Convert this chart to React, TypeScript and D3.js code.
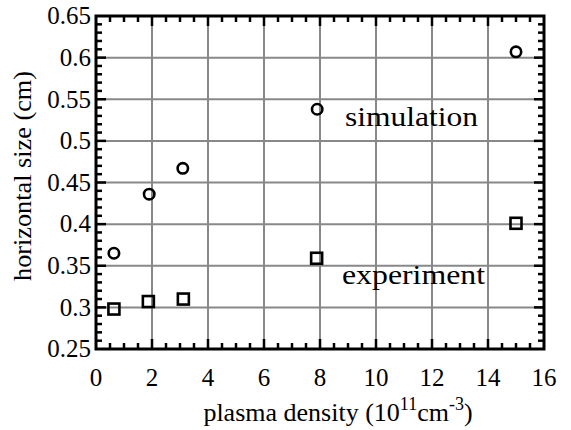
import React from 'react';
import * as d3 from 'd3';

// plasma density (10^11 cm^-3) vs horizontal size (cm)
const simDensity = [0.64, 1.9, 3.1, 7.9, 15.0];
const simSize = [0.365, 0.436, 0.467, 0.538, 0.607];
const expDensity = [0.64, 1.87, 3.12, 7.88, 15.0];
const expSize = [0.298, 0.307, 0.31, 0.359, 0.401];

const xTicks = [0, 2, 4, 6, 8, 10, 12, 14, 16];
const yTicks = [0.25, 0.3, 0.35, 0.4, 0.45, 0.5, 0.55, 0.6, 0.65];
const yTickLabels = ['0.25', '0.3', '0.35', '0.4', '0.45', '0.5', '0.55', '0.6', '0.65'];

const W = 571;
const H = 430;
const serif = { fontFamily: '"Liberation Serif"' };

const x = d3.scaleLinear().domain([0, 16]).range([96, 544]);
const y = d3.scaleLinear().domain([0.25, 0.65]).range([349, 16]);

const App = () => {
  const [x0, x1] = x.range();
  const [y0, y1] = y.range();

  const xMinor = d3.range(0, 16.001, 0.5).filter((v) => Math.abs(v % 2) > 1e-6);
  const yMinor = d3.range(25, 65.001, 1).filter((v) => v % 5 !== 0).map((v) => v / 100);
  const xt = [
    ...xTicks.slice(1, -1).map((v) => ({ v, len: 10 })),
    ...xMinor.map((v) => ({ v, len: 6 })),
  ];
  const yt = [
    ...yTicks.slice(1, -1).map((v) => ({ v, len: 10 })),
    ...yMinor.map((v) => ({ v, len: 6 })),
  ];

  return (
    <svg
      width={W}
      height={H}
      style={{ position: 'absolute', left: 0, top: 0, background: '#fff' }}
    >
      {/* grid */}
      <g stroke="#888" strokeWidth={2}>
        {xTicks.slice(1, -1).map((d) => (
          <line key={'gx' + d} x1={x(d)} x2={x(d)} y1={y0} y2={y1} />
        ))}
        {yTicks.slice(1, -1).map((d) => (
          <line key={'gy' + d} x1={x0} x2={x1} y1={y(d)} y2={y(d)} />
        ))}
      </g>

      {/* inward ticks on all sides */}
      <g stroke="#000" strokeWidth={2.5}>
        {xt.map((d, i) => (
          <g key={'xt' + i}>
            <line x1={x(d.v)} x2={x(d.v)} y1={y0} y2={y0 - d.len} />
            <line x1={x(d.v)} x2={x(d.v)} y1={y1} y2={y1 + d.len} />
          </g>
        ))}
        {yt.map((d, i) => (
          <g key={'yt' + i}>
            <line x1={x0} x2={x0 + d.len} y1={y(d.v)} y2={y(d.v)} />
            <line x1={x1} x2={x1 - d.len} y1={y(d.v)} y2={y(d.v)} />
          </g>
        ))}
      </g>

      <rect
        x={x0}
        y={y1}
        width={x1 - x0}
        height={y0 - y1}
        fill="none"
        stroke="#000"
        strokeWidth={3}
      />

      {/* tick labels */}
      {xTicks.map((d) => (
        <text key={'xl' + d} x={x(d)} y={386} style={serif} fontSize={25} textAnchor="middle">
          {d}
        </text>
      ))}
      {yTicks.map((d, i) => (
        <text
          key={'yl' + d}
          x={91}
          y={y(d)}
          dy="0.33em"
          style={serif}
          fontSize={25}
          textAnchor="end"
        >
          {yTickLabels[i]}
        </text>
      ))}

      {/* markers */}
      <g fill="none" stroke="#000" strokeWidth={2.6}>
        {simDensity.map((d, i) => (
          <circle key={'s' + i} cx={x(d)} cy={y(simSize[i])} r={5.2} />
        ))}
        {expDensity.map((d, i) => (
          <rect
            key={'e' + i}
            x={x(d) - 5.5}
            y={y(expSize[i]) - 5.5}
            width={11}
            height={11}
          />
        ))}
      </g>

      {/* series labels */}
      <text
        x={345}
        y={126}
        style={serif}
        fontSize={27}
        textLength={133}
        lengthAdjust="spacingAndGlyphs"
      >
        simulation
      </text>
      <text
        x={342}
        y={284}
        style={serif}
        fontSize={27}
        textLength={143}
        lengthAdjust="spacingAndGlyphs"
      >
        experiment
      </text>

      {/* axis titles */}
      <text
        transform="translate(31,176) rotate(-90)"
        textAnchor="middle"
        style={serif}
        fontSize={25}
        textLength={210}
        lengthAdjust="spacingAndGlyphs"
      >
        horizontal size (cm)
      </text>
      <text x={338} y={421} textAnchor="middle" style={serif} fontSize={26}>
        <tspan>plasma density (10</tspan>
        <tspan dy={-11} fontSize={18}>
          11
        </tspan>
        <tspan dy={11}>cm</tspan>
        <tspan dy={-11} fontSize={18}>
          -3
        </tspan>
        <tspan dy={11}>)</tspan>
      </text>
    </svg>
  );
};

export default App;
